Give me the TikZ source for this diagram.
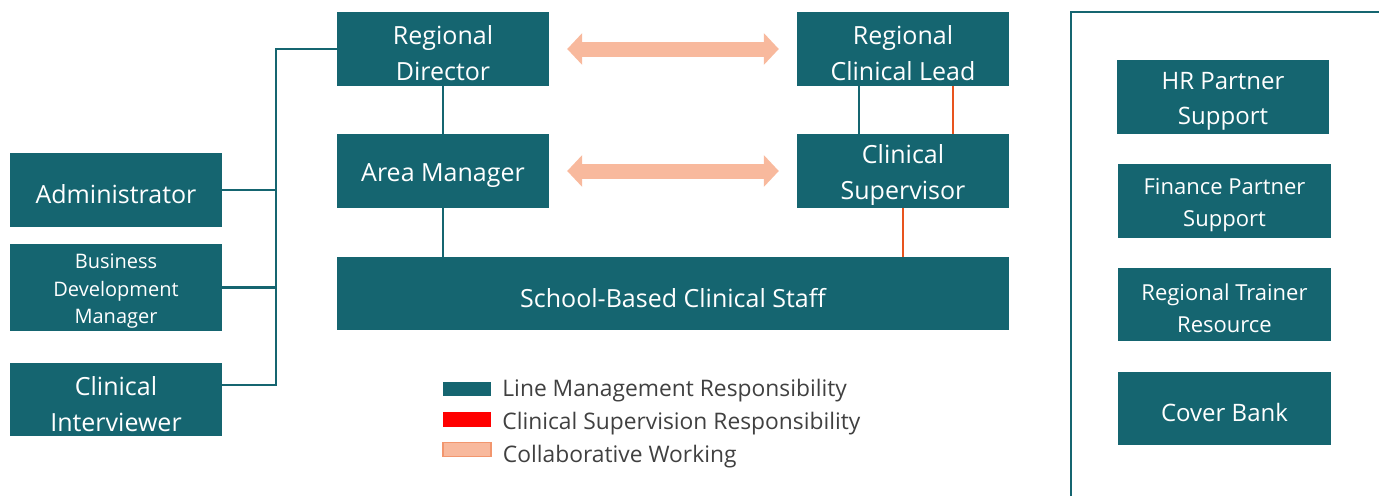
\documentclass[tikz,border=0pt]{standalone}
\usepackage{fontspec}
\setmainfont{Open Sans}
\usetikzlibrary{positioning,arrows.meta}
\definecolor{boxteal}{RGB}{21,101,112}
\definecolor{supline}{RGB}{232,84,30}
\definecolor{peach}{RGB}{248,185,157}
\definecolor{peachedge}{RGB}{242,150,110}
\definecolor{legendtext}{RGB}{64,64,64}

\begin{document}
\begin{tikzpicture}[x=1pt,y=-1pt,
    lines/.style={execute at begin node={\rule{0pt}{\dimexpr1.1em+#1\baselineskip-\baselineskip\relax}}},
    box/.style={rectangle,fill=boxteal,text=white,minimum width=212pt,minimum height=74pt,inner sep=0pt,align=center,font=\fontsize{25}{36}\selectfont,lines=1},
    small/.style={font=\fontsize{22}{32}\selectfont},
    lm/.style={draw=boxteal,line width=2.2pt},
    csup/.style={draw=supline,line width=2.2pt},
    collab/.style={draw=peach,line width=15pt,{Triangle[length=15pt,width=31pt]}-{Triangle[length=15pt,width=31pt]}},
    key/.style={rectangle,minimum width=48pt,minimum height=14pt,inner sep=0pt},
    keytext/.style={text=legendtext,font=\fontsize{22.8}{26}\selectfont,inner sep=0pt,anchor=west},]
\useasboundingbox (0,0) rectangle (1379,496);
% main chain
\node[box,lines=2] (rd) at (443,49) {Regional\\Director};
\node[box,lines=2] (rcl) at (903,49) {Regional\\Clinical Lead};
\node[box] (am) at (443,171) {Area Manager};
\node[box,lines=2] (cs) at (903,171) {Clinical\\Supervisor};
\node[box,minimum width=672pt,minimum height=73pt] (staff) at (673,293.5) {School-Based Clinical Staff};
% support roles
\node[box] (admin) at (116,190) {Administrator};
\node[box,minimum height=87pt,font=\fontsize{20}{27.6}\selectfont,lines=3] (bdm) at (116,287.5) {Business\\Development\\Manager};
\node[box,minimum height=73pt,lines=2] (ci) at (116,399.5) {Clinical\\Interviewer};
\coordinate (spine) at (276,0);
\draw[lm] (rd.west) -| ([yshift=14.5pt]ci.east -| spine) -- ([yshift=14.5pt]ci.east);
\draw[lm] (admin.east) -- (admin.east -| spine);
\draw[lm] (bdm.east) -- (bdm.east -| spine);
% line management
\draw[lm] (rd) -- (am);
\draw[lm] (am.south) -- (am.south |- staff.north);
\draw[lm] ([xshift=-44pt]rcl.south) -- ([xshift=-44pt]cs.north);
% clinical supervision
\draw[csup] ([xshift=50pt]rcl.south) -- ([xshift=50pt]cs.north);
\draw[csup] (cs.south) -- (cs.south |- staff.north);
% collaborative working
\draw[collab] ([xshift=18pt]rd.east) -- ([xshift=-18pt]rcl.west);
\draw[collab] ([xshift=18pt]am.east) -- ([xshift=-18pt]cs.west);
% legend
\node[key,fill=boxteal] (k1) at (467,389) {};
\node[key,fill=red,minimum height=15pt] (k2) at (467,419.5) {};
\node[key,fill=peach,draw=peachedge,line width=1.5pt,minimum height=14pt] (k3) at (467,449.5) {};
\node[keytext,right=11pt of k1,yshift=-2pt] {Line Management Responsibility};
\node[keytext,right=11pt of k2,yshift=-4pt] {Clinical Supervision Responsibility};
\node[keytext,right=11pt of k3,yshift=-7pt] {Collaborative Working};
% partner panel
\draw[boxteal,line width=1.5pt] (1071,496) -- (1071,12) -- (1379,12);
\node[box,font=\fontsize{24}{35}\selectfont,lines=2] (hr) at (1223,97) {HR Partner\\Support};
\node[box,small,minimum width=213pt,lines=2] (fin) at (1224.5,201) {Finance Partner\\Support};
\node[box,small,minimum width=213pt,minimum height=73pt,lines=2] (trainer) at (1224.5,304.5) {Regional Trainer\\Resource};
\node[box,minimum width=213pt,minimum height=73pt,font=\fontsize{24}{35}\selectfont] (cover) at (1224.5,408.5) {Cover Bank};
\end{tikzpicture}
\end{document}
